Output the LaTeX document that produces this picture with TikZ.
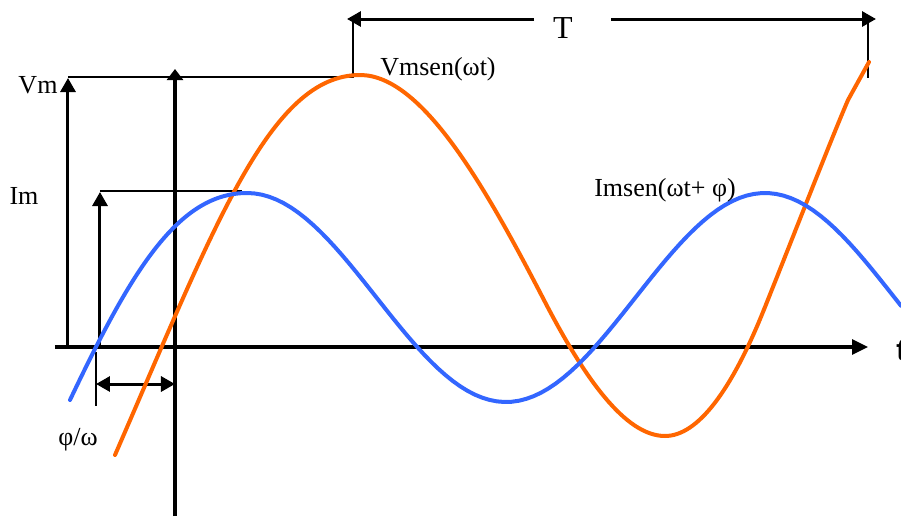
\documentclass[tikz,border=0pt]{standalone}
\usepackage{fontspec}
\setmainfont{Liberation Serif}
\newfontfamily\axisfont{Liberation Sans}
\usetikzlibrary{arrows.meta}

\definecolor{vorange}{RGB}{255,102,0}
\definecolor{iblue}{RGB}{51,102,255}

\tikzset{
  axisline/.style={line width=1.6pt},
  thinline/.style={line width=0.6pt},
  wave/.style={line width=2pt, line cap=round},
  arr/.style={-{Triangle[length=7pt,width=7.5pt]}},
  lbl/.style={font=\fontsize{13}{15}\selectfont, inner sep=0pt}
}

\begin{document}
\begin{tikzpicture}[x=0.5pt,y=0.5pt]
    \useasboundingbox (-175,-169) rectangle (726,347);
    % axes
    \coordinate (xs) at (-120,0);
    \coordinate (xe) at (693,0);
    \coordinate (ys) at (0,-169);
    \coordinate (ye) at (0,278);
    \draw[axisline, -{Triangle[length=5.5pt,width=8pt]}] (ys) -- (ye);
    \draw[axisline, -{Triangle[length=8pt,width=7.5pt]}] (xs) -- (xe);
    \node[font=\axisfont\bfseries\fontsize{15}{17}\selectfont, anchor=west, inner sep=0pt] (tlab) at (721,-4) {t};
    % amplitudes
    \coordinate (vm0) at (-107,0);
    \coordinate (vm1) at (-107,269);
    \coordinate (im0) at (-75,0);
    \coordinate (im1) at (-75,155);
    \draw[line width=1.5pt, arr] (vm0) -- (vm1);
    \draw[line width=1.5pt, arr] (im0) -- (im1);
    \draw[thinline] (-107,270) -- (178,270) -- (178,328);
    \draw[thinline] (-75,156) -- (67,156);
    \node[lbl] (vmlab) at (-137,262) {Vm};
    \node[lbl] (imlab) at (-151,151) {Im};
    % period
    \node[font=\fontsize{16}{18}\selectfont, inner sep=0pt] (Tlab) at (388,319) {T};
    \draw[thinline] (693,328) -- (693,269);
    \draw[line width=1.5pt, arr] (359,328) -- (172,328);
    \draw[line width=1.5pt, arr] (436,328) -- (701,328);
    % phase shift
    \coordinate (ph0) at (-79,-37);
    \coordinate (ph1) at (0,-37);
    \draw[thinline] (-79,-5) -- (-79,-59);
    \draw[line width=1.5pt, {Triangle[length=7pt,width=7.5pt]}-{Triangle[length=7pt,width=7.5pt]}] (ph0) -- (ph1);
    \node[lbl] (phlab) at (-97,-93) {φ/ω};
    % curves
    \draw[wave, vorange] (-60,-108) .. controls (40,122) and (95,272) .. (185,272)
        .. controls (247,272) and (310,161) .. (370,45)
        .. controls (409,-30) and (450,-89) .. (490,-89)
        .. controls (523,-89) and (557,-43) .. (590,40)
        .. controls (620,115) and (655,205) .. (673,247) -- (694,285);
    \draw[wave, iblue] (-105,-53) .. controls (-45,73) and (2,154) .. (72,154)
        -- plot[domain=72:726, samples=90] (\x, {49.5+104.5*cos(0.695*(\x-72))});
    \node[lbl] (vlab) at (263,278) {Vmsen(ωt)};
    \node[lbl] (ilab) at (490,157) {Imsen(ωt+ φ)};
\end{tikzpicture}
\end{document}
